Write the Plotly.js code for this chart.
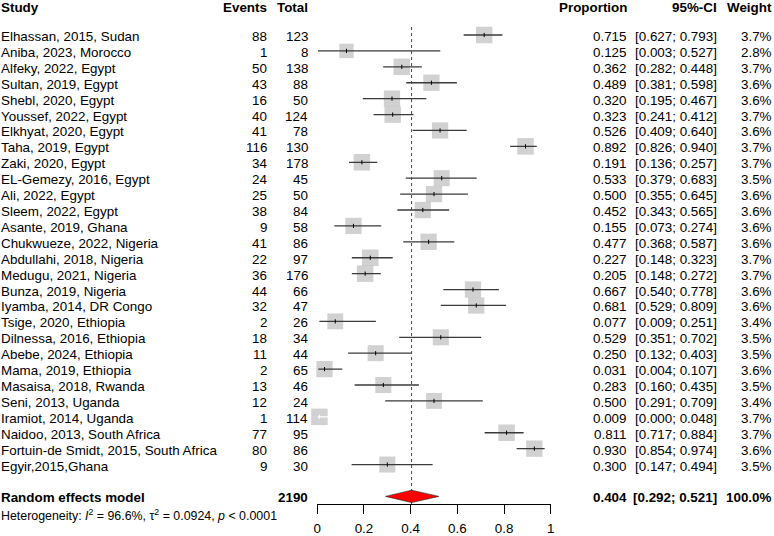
<!DOCTYPE html>
<html><head><meta charset="utf-8">
<script src="https://cdn.plot.ly/plotly-3.0.1.min.js"></script>
<style>html,body{margin:0;padding:0;background:#fff}#c{width:774px;height:536px}</style>
</head><body><div id="c"></div>
<script>
const studies = ["Elhassan, 2015, Sudan","Aniba, 2023, Morocco","Alfeky, 2022, Egypt","Sultan, 2019, Egypt","Shebl, 2020, Egypt","Youssef, 2022, Egypt","Elkhyat, 2020, Egypt","Taha, 2019, Egypt","Zaki, 2020, Egypt","EL-Gemezy, 2016, Egypt","Ali, 2022, Egypt","Sleem, 2022, Egypt","Asante, 2019, Ghana","Chukwueze, 2022, Nigeria","Abdullahi, 2018, Nigeria","Medugu, 2021, Nigeria","Bunza, 2019, Nigeria","Iyamba, 2014, DR Congo","Tsige, 2020, Ethiopia","Dilnessa, 2016, Ethiopia","Abebe, 2024, Ethiopia","Mama, 2019, Ethiopia","Masaisa, 2018, Rwanda","Seni, 2013, Uganda","Iramiot, 2014, Uganda","Naidoo, 2013, South Africa","Fortuin-de Smidt, 2015, South Africa","Egyir,2015,Ghana"];
const events = [88,1,50,43,16,40,41,116,34,24,25,38,9,41,22,36,44,32,2,18,11,2,13,12,1,77,80,9];
const totals = [123,8,138,88,50,124,78,130,178,45,50,84,58,86,97,176,66,47,26,34,44,65,46,24,114,95,86,30];
const proportion = [0.715,0.125,0.362,0.489,0.320,0.323,0.526,0.892,0.191,0.533,0.500,0.452,0.155,0.477,0.227,0.205,0.667,0.681,0.077,0.529,0.250,0.031,0.283,0.500,0.009,0.811,0.930,0.300];
const ciLower = [0.627,0.003,0.282,0.381,0.195,0.241,0.409,0.826,0.136,0.379,0.355,0.343,0.073,0.368,0.148,0.148,0.540,0.529,0.009,0.351,0.132,0.004,0.160,0.291,0.000,0.717,0.854,0.147];
const ciUpper = [0.793,0.527,0.448,0.598,0.467,0.412,0.640,0.940,0.257,0.683,0.645,0.565,0.274,0.587,0.323,0.272,0.778,0.809,0.251,0.702,0.403,0.107,0.435,0.709,0.048,0.884,0.974,0.494];
const weights = [3.7,2.8,3.7,3.6,3.6,3.7,3.6,3.7,3.7,3.5,3.6,3.6,3.6,3.6,3.7,3.7,3.6,3.6,3.4,3.5,3.5,3.6,3.5,3.4,3.7,3.7,3.6,3.5];
const summaryLabel = "Random effects model";
const summaryTotal = 2190;
const summaryEst = [0.404];
const summaryLower = [0.292];
const summaryUpper = [0.521];
const summaryWeight = "100.0%";
const tickVals = [0,0.2,0.4,0.6,0.8,1];
const tickText = ["0","0.2","0.4","0.6","0.8","1"];
const headers = ["Study","Events","Total","Proportion","95%-CI","Weight"];

const W = 774, H = 536;
const FONT = "Liberation Sans, Arial, Helvetica, sans-serif";
const FS = 13.4;
const n = studies.length;
const rows = studies.map((_, i) => i + 1);
const sumRow = n + 2;
const axisPx = 504;
const xPx0 = 317.3, xPx1 = 550.7;
const pxPerUnit = xPx1 - xPx0;
const maxSq = 16.5;
const sqSize = weights.map(w => maxSq * Math.sqrt(w / Math.max(...weights)));
// CI inside square -> drawn white
const inside = rows.map((_, i) => (ciUpper[i] - ciLower[i]) * pxPerUnit < sqSize[i]);

const traces = [];
traces.push({type:'scatter', mode:'markers', x: proportion, y: rows, cliponaxis:false,
  marker:{symbol:'square', size: sqSize, color:'#bebebe', line:{width:0}}, hoverinfo:'skip'});
const lx = [], ly = [], wx = [], wy = [];
rows.forEach((r, i) => {
  const tx = inside[i] ? wx : lx, ty = inside[i] ? wy : ly;
  tx.push(ciLower[i], ciUpper[i], null); ty.push(r, r, null);
});
traces.push({type:'scatter', mode:'lines', x: lx, y: ly, line:{color:'#3a3a3a', width:1.3}, cliponaxis:false, hoverinfo:'skip'});
traces.push({type:'scatter', mode:'lines', x: wx, y: wy, line:{color:'#ffffff', width:1.3}, cliponaxis:false, hoverinfo:'skip'});
traces.push({type:'scatter', mode:'markers', x: proportion, y: rows, cliponaxis:false,
  marker:{symbol:'line-ns-open', size:3, color: inside.map(v => v ? '#ffffff' : '#000000'), line:{width:1, color: inside.map(v => v ? '#ffffff' : '#000000')}}, hoverinfo:'skip'});
traces.push({type:'scatter', mode:'lines', x:[summaryEst[0], summaryEst[0]], y:[0.5, sumRow + 0.48],
  line:{color:'#444', width:1, dash:'dot'}, cliponaxis:false, hoverinfo:'skip'});
const dh = 0.39;
traces.push({type:'scatter', mode:'lines', fill:'toself', fillcolor:'#ff0000',
  x:[summaryLower[0], summaryEst[0], summaryUpper[0], summaryEst[0], summaryLower[0]],
  y:[sumRow, sumRow - dh, sumRow, sumRow + dh, sumRow],
  line:{color:'#222', width:0.6}, cliponaxis:false, hoverinfo:'skip'});

const ann = [];
const TSHIFT = -1.5;
function A(text, xpx, row, anchor, bold) {
  ann.push({text: bold ? '<b>' + text + '</b>' : text, xref:'paper', yref:'y', x: xpx / W, y: row,
    xanchor: anchor, yanchor:'middle', yshift: TSHIFT, showarrow:false, borderpad:0,
    font:{family:FONT, size:FS, color:'#000'}});
}
const colEv = 268, colTot = 309, colProp = 628, colCI = 718, colW = 773;
const headRow = -0.82;
A(headers[0], 0, headRow, 'left', true);
A(headers[1], colEv, headRow, 'right', true);
A(headers[2], colTot, headRow, 'right', true);
A(headers[3], colProp, headRow, 'right', true);
A(headers[4], colCI, headRow, 'right', true);
A(headers[5], colW, headRow, 'right', true);
rows.forEach((r, i) => {
  A(studies[i], 0, r, 'left', false);
  A(String(events[i]), colEv, r, 'right', false);
  A(String(totals[i]), colTot, r, 'right', false);
  A(proportion[i].toFixed(3), colProp, r, 'right', false);
  A('[' + ciLower[i].toFixed(3) + '; ' + ciUpper[i].toFixed(3) + ']', colCI, r, 'right', false);
  A(weights[i].toFixed(1) + '%', colW, r, 'right', false);
});
A(summaryLabel, 0, sumRow, 'left', true);
A(String(summaryTotal), colTot, sumRow, 'right', true);
A(summaryEst[0].toFixed(3), colProp, sumRow, 'right', true);
A('[' + summaryLower[0].toFixed(3) + '; ' + summaryUpper[0].toFixed(3) + ']', colCI, sumRow, 'right', true);
A(summaryWeight, colW, sumRow, 'right', true);
ann.push({text:'Heterogeneity: <i>I</i><sup>2</sup> = 96.6%, τ<sup>2</sup> = 0.0924, <i>p</i> &lt; 0.0001',
  xref:'paper', yref:'paper', x:0, y:1 - 515 / H, xanchor:'left', yanchor:'middle', showarrow:false, borderpad:0,
  font:{family:FONT, size:12.4, color:'#000'}});

const rowPx = 15.91, firstPx = 35;
const yTop = 1 - firstPx / rowPx;
const yBot = 1 + (axisPx - firstPx) / rowPx;

const layout = {
  width: W, height: H, margin:{l:0, r:0, t:0, b:0}, paper_bgcolor:'#fff', plot_bgcolor:'rgba(0,0,0,0)',
  showlegend:false,
  xaxis:{domain:[xPx0 / W, xPx1 / W], range:[0,1], showgrid:false, zeroline:false, showline:true, linecolor:'#000', linewidth:1,
    ticks:'outside', ticklen:9, tickcolor:'#000', tickwidth:1, tickvals: tickVals, ticktext: tickText,
    ticklabelstandoff: 3,
    tickfont:{family:FONT, size:FS, color:'#000'}, fixedrange:true},
  yaxis:{domain:[1 - axisPx / H, 1], range:[yBot, yTop], visible:false, fixedrange:true},
  annotations: ann,
  font:{family:FONT}
};
Plotly.newPlot('c', traces, layout, {staticPlot:true, displayModeBar:false});
</script></body></html>
